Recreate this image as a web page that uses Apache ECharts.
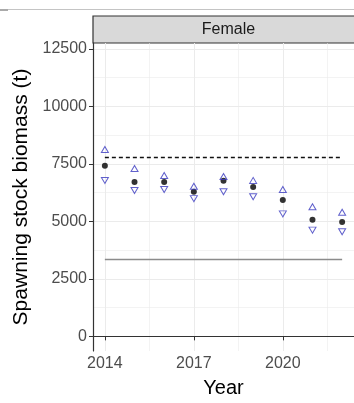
<!DOCTYPE html>
<html>
<head>
<meta charset="utf-8">
<script src="https://cdn.jsdelivr.net/npm/echarts@6/dist/echarts.min.js"></script>
<style>
  html, body { margin: 0; padding: 0; background: #fff; }
  #chart { width: 354px; height: 403px; }
</style>
</head>
<body>
<div id="chart"></div>
<script>
// values
var years = [2014, 2015, 2016, 2017, 2018, 2019, 2020, 2021, 2022];
var ssb   = [7415, 6709, 6709, 6285, 6766, 6497, 5932, 5071, 4972];
var upper = [8123, 7301, 6992, 6525, 6949, 6780, 6384, 5636, 5395];
var lower = [6780, 6342, 6384, 5989, 6285, 6073, 5325, 4619, 4547];
var refDashed = 7768;
var refSolid = 3347;
var xTicks = [2014, 2017, 2020];
var xMinor = [2015.5, 2018.5, 2021.5];
var yTicks = [0, 2500, 5000, 7500, 10000, 12500];
var yMinor = [1250, 3750, 6250, 8750, 11250];

var chart = echarts.init(document.getElementById('chart'));
var font = 'Liberation Sans, Arial, sans-serif';
var blue = '#3a3abf';

function pairs(ys) {
  return years.map(function (y, i) { return [y, ys[i]]; });
}
function plain(v) { return String(v); }

// grid lines (major + minor) as markLines
var gridLines = [];
xTicks.forEach(function (v) { gridLines.push({ xAxis: v, lineStyle: { width: 1 } }); });
xMinor.forEach(function (v) { gridLines.push({ xAxis: v, lineStyle: { width: 0.6 } }); });
yTicks.forEach(function (v) { gridLines.push({ yAxis: v, lineStyle: { width: 1 } }); });
yMinor.forEach(function (v) { gridLines.push({ yAxis: v, lineStyle: { width: 0.6 } }); });

chart.setOption({
  animation: false,
  grid: { left: 93, top: 43, right: -11, bottom: 44 },
  xAxis: {
    type: 'value',
    min: 2013.6,
    max: 2022.4,
    axisLine: { show: true, lineStyle: { color: '#333', width: 1.2 } },
    axisTick: { show: true, length: 4, customValues: xTicks, lineStyle: { color: '#333' } },
    axisLabel: { customValues: xTicks, formatter: plain, color: '#4d4d4d', fontSize: 16, fontFamily: font, margin: 5 },
    splitLine: { show: false },
    name: 'Year',
    nameLocation: 'middle',
    nameGap: 27,
    nameTextStyle: { color: '#000', fontSize: 20, fontFamily: font }
  },
  yAxis: {
    type: 'value',
    min: -636,
    max: 12754,
    axisLine: { show: true, lineStyle: { color: '#333', width: 1.2 } },
    axisTick: { show: true, length: 4, customValues: yTicks, lineStyle: { color: '#333' } },
    axisLabel: { customValues: yTicks, formatter: plain, color: '#4d4d4d', fontSize: 16, fontFamily: font, margin: 6 },
    splitLine: { show: false },
    name: 'Spawning stock biomass (t)',
    nameLocation: 'middle',
    nameGap: 56,
    nameTextStyle: { color: '#000', fontSize: 21, fontFamily: font }
  },
  series: [
    {
      type: 'line',
      data: [],
      silent: true,
      z: 0,
      markLine: {
        silent: true,
        z: 0,
        symbol: 'none',
        label: { show: false },
        lineStyle: { color: '#ebebeb', type: 'solid' },
        data: gridLines
      }
    },
    {
      type: 'line',
      data: [],
      silent: true,
      z: 1,
      markLine: {
        silent: true,
        z: 1,
        symbol: 'none',
        label: { show: false },
        data: [
          [{ coord: [2014, refDashed], lineStyle: { color: '#111', type: [4, 3], width: 1.3 } },
           { coord: [2022, refDashed] }],
          [{ coord: [2014, refSolid], lineStyle: { color: '#8c8c8c', type: 'solid', width: 1.3 } },
           { coord: [2022, refSolid] }]
        ]
      }
    },
    {
      type: 'scatter',
      data: pairs(ssb),
      symbol: 'circle',
      symbolSize: 6,
      itemStyle: { color: '#000', borderWidth: 0 },
      z: 2
    },
    {
      type: 'scatter',
      data: pairs(upper),
      symbol: 'triangle',
      symbolSize: [7, 6],
      itemStyle: { color: 'rgba(0,0,0,0)', borderColor: blue, borderWidth: 1 },
      z: 3
    },
    {
      type: 'scatter',
      data: pairs(lower),
      symbol: 'triangle',
      symbolRotate: 180,
      symbolSize: [7, 6],
      itemStyle: { color: 'rgba(0,0,0,0)', borderColor: blue, borderWidth: 1 },
      z: 3
    }
  ],
  graphic: [
    { type: 'line', shape: { x1: 0, y1: 9.5, x2: 354, y2: 9.5 }, style: { stroke: '#c4c4c4', lineWidth: 1 } },
    { type: 'line', shape: { x1: 0, y1: 10, x2: 8, y2: 10 }, style: { stroke: '#aaa', lineWidth: 2 } },
    {
      type: 'rect',
      shape: { x: 93, y: 16, width: 290, height: 27 },
      style: { fill: '#d9d9d9', stroke: '#333', lineWidth: 1.2 }
    },
    {
      type: 'text',
      x: 228.5, y: 30,
      style: {
        text: 'Female', fill: '#1a1a1a', fontSize: 16, fontFamily: font,
        align: 'center', verticalAlign: 'middle'
      }
    }
  ]
});
</script>
</body>
</html>
